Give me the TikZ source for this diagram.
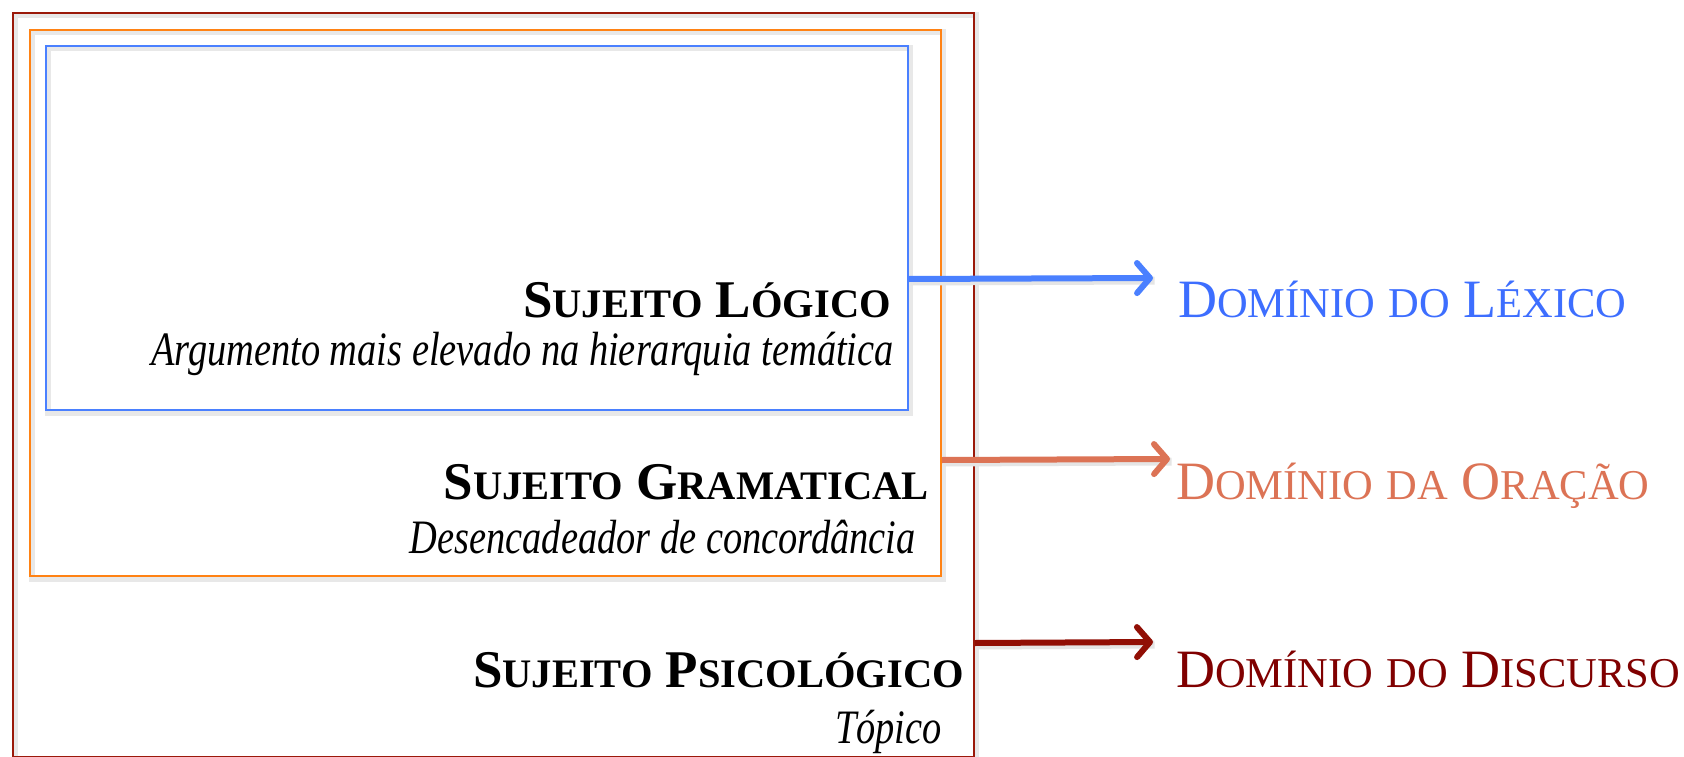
\documentclass[tikz,border=0pt]{standalone}
\usepackage{fontspec}
\setmainfont{Liberation Serif}
\usepackage{graphicx}
\usetikzlibrary{arrows.meta,calc}
\definecolor{lexblue}{RGB}{74,128,255}
\definecolor{lextext}{RGB}{61,110,255}
\definecolor{oraorange}{RGB}{255,130,20}
\definecolor{orasalmon}{RGB}{220,115,85}
\definecolor{disred}{RGB}{155,25,10}
\definecolor{disarrow}{RGB}{145,15,5}
\definecolor{distext}{RGB}{128,0,0}
\newcommand{\bsc}[2]{{\fontsize{53pt}{60pt}\selectfont\bfseries #1}{\fontsize{40.5pt}{48pt}\selectfont\bfseries #2}}
\newcommand{\rsc}[2]{{\fontsize{54pt}{60pt}\selectfont #1}{\fontsize{42.5pt}{48pt}\selectfont #2}}
\newcommand{\itx}[1]{\scalebox{0.8}[1]{\fontsize{48pt}{54pt}\selectfont\itshape #1}}
\begin{document}
\begin{tikzpicture}[x=1pt,y=-1pt,
  boxshadow/.style={preaction={draw=black!9,line width=6pt,transform canvas={shift={(1.5pt,-2.5pt)}}}},
  framebox/.style={draw,line width=2pt,minimum width=#1,inner sep=0pt,anchor=north west,boxshadow},
  head/.style={inner sep=0pt,anchor=base east,font=\fontsize{53pt}{60pt}\selectfont\bfseries},
  sub/.style={inner sep=0pt,anchor=base east},
  dom/.style={inner sep=0pt,anchor=base west,font=\fontsize{54pt}{60pt}\selectfont},
  arr/.style={line width=6pt,-{Straight Barb[length=13pt,width=30pt,round]},
    preaction={draw=black!10,line width=8pt,-,transform canvas={shift={(1.5pt,-2.5pt)}}}}
]
\useasboundingbox (0,0) rectangle (1684,757);
\fill[white] (0,0) rectangle (1684,757);
% frames
\node[framebox=961pt,minimum height=744pt,draw=disred] (dis) at (12,12) {};
\node[framebox=911pt,minimum height=546pt,draw=oraorange] (ora) at (29,29) {};
\node[framebox=862pt,minimum height=364pt,draw=lexblue] (lex) at (45,45) {};
% texts inside
\node[head] (tlog) at (891,317) {\bsc{S}{UJEITO} \bsc{L}{ÓGICO}};
\node[sub] (slog) at (894,365) {\itx{Argumento mais elevado na hierarquia temática}};
\node[head] (tgra) at (929,499) {\bsc{S}{UJEITO} \bsc{G}{RAMATICAL}};
\node[sub] (sgra) at (916,553) {\itx{Desencadeador de concordância}};
\node[head] (tpsi) at (964,687) {\bsc{S}{UJEITO} \bsc{P}{SICOLÓGICO}};
\node[sub] (spsi) at (942,743) {\itx{Tópico}};
% domain labels
\node[dom,text=lextext] (dlex) at (1178,317) {\rsc{D}{OMÍNIO} \rsc{}{DO} \rsc{L}{ÉXICO}};
\node[dom,text=orasalmon] (dora) at (1176,499) {\rsc{D}{OMÍNIO} \rsc{}{DA} \rsc{O}{RAÇÃO}};
\node[dom,text=distext] (ddis) at (1176,687) {\rsc{D}{OMÍNIO} \rsc{}{DO} \rsc{D}{ISCURSO}};
% arrows
\draw[arr,lexblue] ([yshift=-51pt]lex.east) -- ([shift={(-25pt,39pt)}]dlex.base west);
\draw[arr,orasalmon] ([yshift=-157pt]ora.east) -- ([shift={(-6pt,40pt)}]dora.base west);
\draw[arr,disarrow] ([yshift=-258pt]dis.east) -- ([shift={(-23pt,45pt)}]ddis.base west);
\end{tikzpicture}
\end{document}
